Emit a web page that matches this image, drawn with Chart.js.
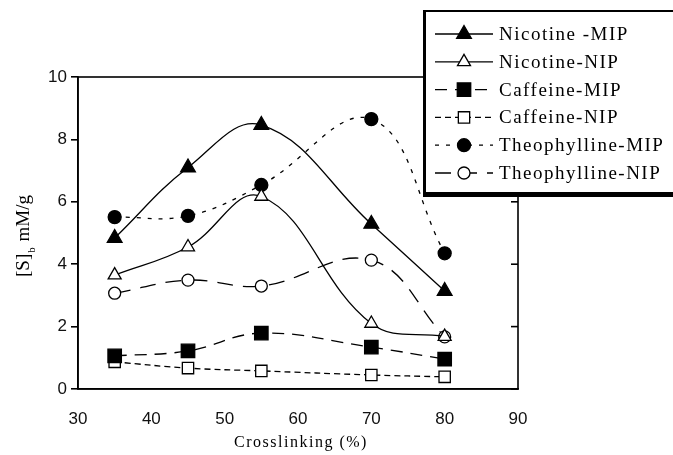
<!DOCTYPE html>
<html>
<head>
<meta charset="utf-8">
<script src="https://cdn.jsdelivr.net/npm/chart.js@4/dist/chart.umd.min.js"></script>
<style>
  html, body { margin: 0; padding: 0; background: #fff; }
  #wrap { width: 673px; height: 455px; position: relative; }
</style>
</head>
<body>
<div id="wrap"><canvas id="chart" width="673" height="455"></canvas></div>
<script>
// crosslinking (%) values on x
const crosslinking = [35, 45, 55, 70, 80];

// bound amount [S]b (mM/g)
const nicotineMIP = [4.84, 7.10, 8.46, 5.29, 3.14];
const nicotineNIP = [3.65, 4.55, 6.17, 2.10, 1.68];
const caffeineMIP = [1.06, 1.22, 1.79, 1.34, 0.96];
const caffeineNIP = [0.87, 0.67, 0.58, 0.45, 0.39];
const theophyllineMIP = [5.51, 5.55, 6.54, 8.65, 4.35];
const theophyllineNIP = [3.07, 3.49, 3.30, 4.13, 1.67];

const xTicks = [30, 40, 50, 60, 70, 80, 90];
const yTicks = [0, 2, 4, 6, 8, 10];

const seriesNames = ['Nicotine -MIP', 'Nicotine-NIP', 'Caffeine-MIP', 'Caffeine-NIP', 'Theophylline-MIP', 'Theophylline-NIP'];

const toPoints = vals => vals.map((v, i) => ({ x: crosslinking[i], y: v }));

function makeSet(label, vals, style, radius, filled, dash) {
    return {
        label: label,
        data: toPoints(vals),
        borderColor: '#000',
        borderWidth: 1.3,
        borderDash: dash,
        tension: 0.4,
        pointStyle: style,
        pointRadius: radius,
        pointHoverRadius: radius,
        pointBorderWidth: 1.3,
        pointBackgroundColor: filled ? '#000' : '#fff',
        pointBorderColor: '#000',
        fill: false
    };
}

const datasets = [
    makeSet(seriesNames[0], nicotineMIP, 'triangle', 8.5, true, []),
    makeSet(seriesNames[1], nicotineNIP, 'triangle', 7.5, false, []),
    makeSet(seriesNames[2], caffeineMIP, 'rect', 9.5, true, [12, 8]),
    makeSet(seriesNames[3], caffeineNIP, 'rect', 8, false, [6, 4]),
    makeSet(seriesNames[4], theophyllineMIP, 'circle', 6.5, true, [4, 7]),
    makeSet(seriesNames[5], theophyllineNIP, 'circle', 6, false, [16, 10])
];

function marker(ctx, style, r, filled, x, y) {
    ctx.save();
    ctx.setLineDash([]);
    ctx.lineWidth = 1.3;
    ctx.strokeStyle = '#000';
    ctx.fillStyle = filled ? '#000' : '#fff';
    ctx.beginPath();
    if (style === 'triangle') {
        const h = r * Math.sqrt(3) / 2;
        ctx.moveTo(x, y - r);
        ctx.lineTo(x + h, y + r / 2);
        ctx.lineTo(x - h, y + r / 2);
        ctx.closePath();
    } else if (style === 'rect') {
        const s = Math.SQRT1_2 * r;
        ctx.rect(x - s, y - s, 2 * s, 2 * s);
    } else {
        ctx.arc(x, y, r, 0, Math.PI * 2);
    }
    ctx.fill();
    ctx.stroke();
    ctx.restore();
}

const serif = '"Liberation Serif", "Times New Roman", serif';

const framePlugin = {
    id: 'frame',
    afterDraw(chart) {
        const ctx = chart.ctx;
        const a = chart.chartArea;
        const ys = chart.scales.y;
        ctx.save();
        // box round the plot
        ctx.strokeStyle = '#000';
        ctx.lineWidth = 1.6;
        ctx.setLineDash([]);
        ctx.strokeRect(a.left, a.top, a.right - a.left, a.bottom - a.top);
        // inward ticks on right side
        yTicks.forEach(t => {
            const py = ys.getPixelForValue(t);
            ctx.beginPath();
            ctx.moveTo(a.right, py);
            ctx.lineTo(a.right - 7, py);
            ctx.stroke();
        });

        // x title, spaced like the original
        ctx.fillStyle = '#000';
        ctx.font = '16px ' + serif;
        ctx.textAlign = 'center';
        ctx.textBaseline = 'middle';
        if ('letterSpacing' in ctx) ctx.letterSpacing = '1.5px';
        ctx.fillText('Crosslinking (%)', (a.left + a.right) / 2 + 3, 443);
        if ('letterSpacing' in ctx) ctx.letterSpacing = '0px';

        // y title with subscript
        ctx.textAlign = 'left';
        ctx.textBaseline = 'alphabetic';
        ctx.translate(22, 236);
        ctx.rotate(-Math.PI / 2);
        const p1 = '[S]', p3 = ' mM/g';
        ctx.font = '19px ' + serif;
        const w1 = ctx.measureText(p1).width;
        const w3 = ctx.measureText(p3).width;
        ctx.font = '11px ' + serif;
        const w2 = ctx.measureText('b').width + 2;
        let sx = -(w1 + w2 + w3) / 2;
        ctx.font = '19px ' + serif;
        ctx.fillText(p1, sx, 7);
        ctx.fillText(p3, sx + w1 + w2, 7);
        ctx.font = '11px ' + serif;
        ctx.fillText('b', sx + w1 + 1, 13);
        ctx.restore();

        // legend box
        ctx.save();
        const lx = 423, ly = 10, lw = 260, lh = 182;
        ctx.fillStyle = '#fff';
        ctx.fillRect(lx, ly, lw, lh);
        ctx.fillStyle = '#000';
        ctx.fillRect(lx, ly, lw, 2);
        ctx.fillRect(lx, ly, 3, lh);
        ctx.fillRect(lx, ly + lh, lw, 5);
        ctx.font = '19px ' + serif;
        ctx.textBaseline = 'middle';
        ctx.textAlign = 'left';
        if ('letterSpacing' in ctx) ctx.letterSpacing = '1.5px';
        chart.data.datasets.forEach((ds, i) => {
            const cy = 34 + i * 27.8;
            ctx.strokeStyle = '#000';
            ctx.lineWidth = 1.3;
            ctx.setLineDash(ds.borderDash);
            ctx.beginPath();
            ctx.moveTo(435, cy);
            ctx.lineTo(493, cy);
            ctx.stroke();
            marker(ctx, ds.pointStyle, ds.pointRadius, ds.pointBackgroundColor === '#000', 464, cy);
            ctx.fillStyle = '#000';
            ctx.fillText(ds.label, 499, cy + 1);
        });
        ctx.restore();
    }
};

new Chart(document.getElementById('chart'), {
    type: 'line',
    data: { datasets: datasets },
    options: {
        responsive: false,
        animation: false,
        events: [],
        layout: { padding: { top: 77, right: 155, left: 0, bottom: 0 } },
        plugins: {
            legend: { display: false },
            tooltip: { enabled: false }
        },
        scales: {
            x: {
                type: 'linear',
                min: 30,
                max: 90,
                afterBuildTicks: s => { s.ticks = xTicks.map(v => ({ value: v })); },
                afterFit: s => { s.height = 66; },
                grid: { display: false, drawTicks: false },
                border: { color: '#000', width: 1.6 },
                ticks: {
                    color: '#111',
                    padding: 20,
                    font: { family: '"Liberation Sans", Arial, sans-serif', size: 17 }
                },
                title: { display: false }
            },
            y: {
                min: 0,
                max: 10,
                afterBuildTicks: s => { s.ticks = yTicks.map(v => ({ value: v })); },
                afterFit: s => { s.width = 78; },
                grid: { display: true, drawOnChartArea: false, drawTicks: true, tickLength: 7, color: '#000', lineWidth: 1.6 },
                border: { color: '#000', width: 1.6 },
                ticks: {
                    color: '#111',
                    padding: 4,
                    font: { family: '"Liberation Sans", Arial, sans-serif', size: 17 }
                }
            }
        }
    },
    plugins: [framePlugin]
});
</script>
</body>
</html>
